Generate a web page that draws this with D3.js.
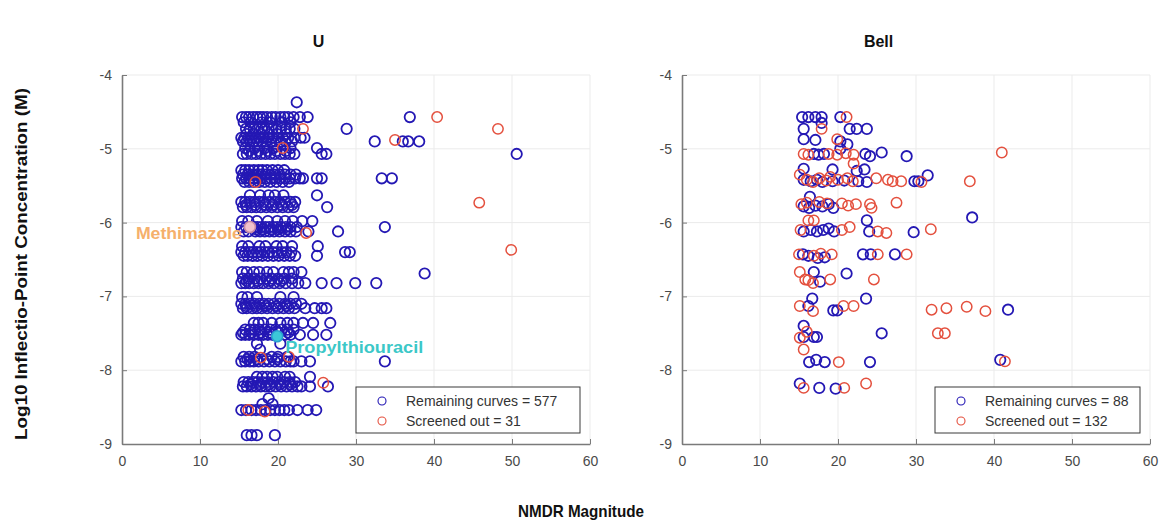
<!DOCTYPE html>
<html>
<head>
<meta charset="utf-8">
<script src="https://cdn.jsdelivr.net/npm/d3@7"></script>
<style>
  html, body { margin: 0; padding: 0; background: #fff; }
  svg { display: block; font-family: "Liberation Sans", Arial, sans-serif; }
</style>
</head>
<body>
<svg id="chart" width="1162" height="522"></svg>
<script>
// ---- Data -------------------------------------------------------------
// Panel "U": remaining curves, grouped by concentration row [log10 conc, [magnitudes...]]
const uRemainingRows = [
  [-4.37, [22.4]],
  [-4.57, [15.4, 15.9, 16.3, 16.8, 17.3, 17.7, 18.1, 18.6, 19.2, 19.7, 20.3, 20.8, 21.3, 22.0, 22.8, 23.8, 36.9]],
  [-4.64, [15.6, 16.5, 17.9, 19.0, 20.5, 21.6]],
  [-4.73, [15.9, 16.4, 16.9, 17.4, 17.9, 18.3, 18.8, 19.3, 19.8, 20.4, 21.0, 21.5, 22.1, 28.8]],
  [-4.80, [16.0, 16.8, 17.8, 18.9, 19.9, 21.1]],
  [-4.85, [15.3, 15.7, 16.2, 16.6, 17.1, 17.6, 18.2, 18.7, 19.3, 20.0, 20.6, 21.3, 22.1, 22.9, 23.4]],
  [-4.90, [15.5, 16.0, 16.4, 16.9, 17.4, 17.9, 18.5, 19.1, 19.7, 20.3, 21.0, 21.8, 32.4, 36.0, 36.7, 38.1]],
  [-4.99, [15.8, 17.0, 18.3, 19.4, 21.6, 25.0]],
  [-5.03, [16.3, 17.5, 18.7, 19.8, 21.0]],
  [-5.07, [15.5, 16.0, 16.6, 17.2, 17.8, 18.4, 19.0, 19.6, 20.3, 20.9, 21.5, 22.1, 25.6, 26.2, 50.6]],
  [-5.29, [15.3, 15.8, 16.3, 16.9, 17.5, 18.0, 18.6, 19.3, 20.0, 20.8]],
  [-5.35, [15.5, 16.1, 16.7, 17.2, 17.8, 18.4, 19.0, 19.5, 20.2, 20.9, 21.6, 22.3]],
  [-5.40, [15.4, 15.9, 16.4, 16.9, 17.4, 17.9, 18.5, 19.1, 19.7, 20.3, 20.9, 21.5, 22.2, 22.8, 23.2, 25.0, 25.6, 33.3, 34.6]],
  [-5.45, [15.7, 16.3, 16.9, 17.6, 18.3, 19.0, 19.8, 20.6, 21.4]],
  [-5.63, [16.4, 17.7, 18.8, 19.6, 20.7, 25.0]],
  [-5.72, [15.3, 15.8, 16.4, 17.0, 17.6, 18.2, 18.9, 19.6, 20.2, 20.9, 21.6, 22.2]],
  [-5.76, [15.9, 17.1, 18.4, 19.3, 20.5, 21.8]],
  [-5.79, [15.5, 16.0, 16.6, 17.2, 17.8, 18.5, 19.2, 19.9, 20.6, 21.3, 22.0, 26.3]],
  [-5.98, [15.4, 16.2, 17.3, 18.7, 19.9, 20.9, 21.9, 23.1, 24.4]],
  [-6.06, [15.3, 15.9, 16.9, 17.4, 17.9, 18.4, 18.9, 19.4, 19.9, 20.4, 21.0, 21.6, 22.4, 33.7]],
  [-6.09, [17.2, 18.1, 19.1, 20.1, 21.2]],
  [-6.12, [15.6, 16.2, 17.1, 17.7, 18.3, 18.9, 19.5, 20.2, 20.9, 21.6, 22.3, 23.9, 27.7]],
  [-6.32, [15.4, 16.2, 17.6, 18.4, 19.8, 20.6, 21.8, 25.1]],
  [-6.40, [15.3, 15.8, 16.3, 16.8, 17.3, 17.8, 18.3, 18.8, 19.3, 19.9, 20.5, 21.1, 21.7, 28.6, 29.2]],
  [-6.45, [15.6, 16.1, 16.7, 17.4, 18.0, 18.7, 19.4, 20.1, 20.8, 21.5, 22.2, 25.0]],
  [-6.67, [15.4, 16.0, 16.9, 17.6, 18.6, 19.4, 20.7, 21.4, 22.0, 23.0]],
  [-6.69, [38.8]],
  [-6.76, [15.5, 16.2, 17.0, 17.8, 18.5, 19.2, 20.0, 20.8, 21.8]],
  [-6.79, [16.0, 17.4, 18.9, 20.4]],
  [-6.82, [15.3, 15.8, 16.3, 16.9, 17.5, 18.1, 18.8, 19.5, 20.2, 21.0, 21.8, 22.6, 23.5, 25.6, 27.5, 29.9, 32.6]],
  [-7.01, [15.4, 16.1, 17.3, 20.3, 22.0]],
  [-7.10, [15.3, 15.8, 16.4, 17.0, 17.6, 18.2, 18.8, 19.5, 20.2, 20.9, 21.6, 22.3, 23.0]],
  [-7.13, [15.9, 17.2, 18.5, 19.8, 21.1]],
  [-7.16, [15.5, 16.0, 16.7, 17.3, 17.9, 18.6, 19.3, 20.0, 20.7, 21.4, 22.1, 23.5, 24.7, 25.6, 26.2]],
  [-7.36, [16.9, 17.5, 18.1, 19.2, 20.3, 21.2, 22.0, 23.2, 24.5, 26.7]],
  [-7.45, [15.8, 16.4, 17.0, 17.6, 18.3, 19.0, 19.7, 20.5, 21.2, 22.0]],
  [-7.49, [15.5, 16.6, 17.8, 18.9, 20.1, 21.3]],
  [-7.52, [15.3, 15.8, 16.3, 16.9, 17.5, 18.1, 18.7, 19.3, 20.9, 21.6, 22.8, 24.5, 26.2]],
  [-7.64, [17.3, 20.3]],
  [-7.72, [17.7]],
  [-7.82, [15.6, 16.3, 17.0, 19.2, 20.0, 21.2]],
  [-7.85, [16.1, 17.3, 18.6, 19.9]],
  [-7.88, [15.3, 15.8, 16.4, 16.9, 17.5, 18.2, 18.9, 19.6, 20.3, 21.0, 21.6, 22.0, 23.0, 24.1, 33.7]],
  [-8.09, [17.3, 18.0, 18.6, 19.3, 19.9, 20.9, 21.5, 24.1]],
  [-8.16, [15.6, 16.2, 16.8, 17.4, 18.0, 18.7, 19.4, 20.1, 20.8, 21.5, 22.2]],
  [-8.19, [16.5, 17.7, 18.9, 20.3, 21.6]],
  [-8.22, [15.5, 16.0, 16.6, 17.2, 17.8, 18.4, 19.0, 19.7, 20.4, 21.1, 21.8, 22.5, 23.0, 24.1, 26.4]],
  [-8.38, [18.8]],
  [-8.46, [18.0, 19.3]],
  [-8.54, [15.3, 15.9, 16.6, 17.2, 17.8, 18.4, 19.0, 19.6, 20.2, 20.8, 21.4, 22.5, 23.8, 24.9]],
  [-8.88, [16.0, 16.6, 17.3, 19.6]]
];

// Panel "U": screened-out curves [magnitude, log10 conc]
const uScreened = [
  [40.4, -4.57], [23.2, -4.73], [48.2, -4.73], [35.0, -4.88], [20.6, -4.99],
  [17.1, -5.45], [45.8, -5.73], [23.6, -6.14], [49.9, -6.37], [17.8, -7.83],
  [21.4, -7.82], [25.8, -8.17], [16.2, -8.54], [18.3, -8.56]
];

// Panel "Bell": remaining curves [magnitude, log10 conc]
const bellRemaining = [
  [15.4, -4.57], [16.2, -4.57], [17.1, -4.57], [17.9, -4.57], [20.3, -4.57], [17.9, -4.65],
  [15.6, -4.73], [21.5, -4.73], [22.4, -4.73], [23.7, -4.73], [15.6, -4.87], [17.1, -4.88],
  [20.3, -4.90], [21.2, -4.94], [16.9, -5.07], [17.5, -5.08], [18.2, -5.07], [20.3, -5.00],
  [23.5, -5.07], [24.1, -5.10], [25.6, -5.05], [28.8, -5.10], [15.6, -5.27], [19.3, -5.28],
  [22.4, -5.30], [23.4, -5.28], [15.6, -5.42], [16.5, -5.44], [17.3, -5.42], [18.0, -5.45],
  [19.3, -5.44], [20.8, -5.43], [22.6, -5.44], [23.7, -5.45], [29.8, -5.44], [30.3, -5.44],
  [31.5, -5.36], [16.4, -5.65], [15.6, -5.78], [16.3, -5.80], [17.1, -5.77], [18.0, -5.78],
  [18.8, -5.75], [19.4, -5.80], [23.7, -5.97], [37.2, -5.93], [15.6, -6.12], [16.5, -6.10],
  [17.3, -6.12], [18.1, -6.10], [18.8, -6.08], [19.5, -6.12], [24.0, -6.12], [29.7, -6.13],
  [15.5, -6.43], [16.2, -6.45], [17.4, -6.48], [18.3, -6.47], [23.2, -6.43], [24.2, -6.43],
  [27.3, -6.43], [16.9, -6.67], [17.7, -6.80], [21.1, -6.69], [16.7, -7.03], [23.6, -7.03],
  [16.2, -7.13], [19.4, -7.19], [19.9, -7.19], [41.8, -7.18], [15.6, -7.40], [15.6, -7.55],
  [16.9, -7.55], [17.3, -7.55], [25.6, -7.50], [16.3, -7.89], [17.2, -7.86], [18.3, -7.89],
  [24.1, -7.89], [40.8, -7.86], [15.1, -8.18], [17.6, -8.24], [19.7, -8.25]
];

// Panel "Bell": screened-out curves [magnitude, log10 conc]
const bellScreened = [
  [21.1, -4.57], [17.9, -4.73], [19.9, -4.87], [15.6, -5.07], [16.2, -5.08], [18.8, -5.07],
  [19.9, -5.08], [21.0, -5.06], [22.0, -5.08], [22.0, -5.20], [41.0, -5.05], [15.1, -5.35],
  [16.0, -5.42], [16.8, -5.45], [17.6, -5.40], [18.5, -5.43], [19.0, -5.38], [20.0, -5.42],
  [21.2, -5.40], [21.9, -5.44], [24.9, -5.40], [26.4, -5.42], [27.0, -5.44], [28.1, -5.44],
  [30.7, -5.45], [36.9, -5.44], [15.3, -5.75], [16.0, -5.73], [17.6, -5.72], [18.6, -5.74],
  [20.5, -5.74], [21.3, -5.77], [22.3, -5.75], [24.1, -5.75], [24.3, -5.80], [27.5, -5.73],
  [16.2, -5.97], [16.9, -5.97], [15.2, -6.10], [20.5, -6.10], [21.5, -6.06], [25.1, -6.12],
  [26.2, -6.14], [31.9, -6.09], [15.0, -6.43], [16.9, -6.45], [17.8, -6.42], [19.2, -6.43],
  [25.1, -6.43], [28.8, -6.43], [15.1, -6.67], [15.8, -6.77], [16.2, -6.78], [16.8, -6.82],
  [19.0, -6.77], [24.6, -6.77], [15.1, -7.13], [16.8, -7.20], [20.7, -7.13], [22.0, -7.13],
  [32.0, -7.18], [33.9, -7.16], [36.5, -7.14], [38.9, -7.20], [15.1, -7.56], [16.0, -7.48],
  [32.8, -7.50], [33.7, -7.50], [15.6, -7.72], [20.1, -7.89], [41.4, -7.88], [15.6, -8.24],
  [20.8, -8.24], [23.6, -8.18]
];

// Highlighted reference compounds in panel "U"
const highlights = [
  { name: "Methimazole", x: 16.4, y: -6.06, fill: "#f2c2cc", stroke: "#c78aa6", text: "#f5b06c", side: "left", len: 106 },
  { name: "Propylthiouracil", x: 19.9, y: -7.54, fill: "#3cc8d8", stroke: "#2a9fd0", text: "#3cc8c8", side: "right", len: 138 }
];

const panels = [
  { title: "U", remaining: uRemainingRows.flatMap(([cy, xs]) => xs.map(cx => [cx, cy])), screened: uScreened, nRemaining: 577, nScreened: 31 },
  { title: "Bell", remaining: bellRemaining, screened: bellScreened, nRemaining: 88, nScreened: 132 }
];

const xTicks = [0, 10, 20, 30, 40, 50, 60];
const yTicks = [-9, -8, -7, -6, -5, -4];

// ---- Layout -----------------------------------------------------------
const svg = d3.select("#chart");
const panelLeft = [122, 682];
const plotW = 468;
const plotTop = 75, plotBottom = 444;
const blue = "#2418b4", red = "#e4503e";
const yScale = d3.scaleLinear().domain([-9, -4]).range([plotBottom, plotTop]);

panels.forEach((p, i) => {
  const xScale = d3.scaleLinear().domain([0, 60]).range([panelLeft[i], panelLeft[i] + plotW]);
  const g = svg.append("g");

  // light grid
  g.append("g").selectAll("line").data(xTicks.slice(1)).join("line")
    .attr("x1", d => xScale(d)).attr("x2", d => xScale(d)).attr("y1", plotTop).attr("y2", plotBottom)
    .attr("stroke", "#ebebeb").attr("stroke-width", 1);
  g.append("g").selectAll("line").data(yTicks.slice(1)).join("line")
    .attr("x1", xScale(0)).attr("x2", xScale(60)).attr("y1", d => yScale(d)).attr("y2", d => yScale(d))
    .attr("stroke", "#ebebeb").attr("stroke-width", 1);

  // axes with inward ticks
  const ax = g.append("g").attr("transform", `translate(0,${plotBottom})`)
    .call(d3.axisBottom(xScale).tickValues(xTicks).tickSizeInner(-5).tickSizeOuter(0).tickPadding(12));
  const ay = g.append("g").attr("transform", `translate(${xScale(0)},0)`)
    .call(d3.axisLeft(yScale).tickValues(yTicks).tickSizeInner(-5).tickSizeOuter(0).tickPadding(10));
  [ax, ay].forEach(a => {
    a.select(".domain").attr("stroke", "#7a7a7a").attr("stroke-width", 1.6);
    a.selectAll(".tick line").attr("stroke", "#7a7a7a").attr("stroke-width", 1);
    a.selectAll(".tick text").attr("fill", "#4a4a4a").attr("font-size", 14)
      .attr("font-family", "'Liberation Sans', Arial, sans-serif");
  });
  ay.selectAll(".tick text").text(d => String(d));

  // title
  svg.append("text").attr("x", xScale(25.2)).attr("y", 47).attr("text-anchor", "middle")
    .attr("font-size", 16).attr("font-weight", "bold").attr("fill", "#111").text(p.title);

  // markers: remaining first, screened-out on top
  g.append("g").selectAll("circle").data(p.remaining).join("circle")
    .attr("cx", d => xScale(d[0])).attr("cy", d => yScale(d[1])).attr("r", 5.2)
    .attr("fill", "none").attr("stroke", blue).attr("stroke-width", 1.8);
  g.append("g").selectAll("circle").data(p.screened).join("circle")
    .attr("cx", d => xScale(d[0])).attr("cy", d => yScale(d[1])).attr("r", 5.2)
    .attr("fill", "none").attr("stroke", red).attr("stroke-width", 1.5);

  if (i === 0) {
    highlights.forEach(h => {
      g.append("circle").attr("cx", xScale(h.x)).attr("cy", yScale(h.y)).attr("r", 5.5)
        .attr("fill", h.fill).attr("stroke", h.stroke).attr("stroke-width", 1.6);
      g.append("text")
        .attr("x", h.side === "left" ? xScale(h.x) - 8 : xScale(h.x) + 8)
        .attr("y", yScale(h.y) + (h.side === "left" ? 12 : 17))
        .attr("text-anchor", h.side === "left" ? "end" : "start")
        .attr("font-size", 16).attr("font-weight", "bold").attr("fill", h.text)
        .attr("textLength", h.len).attr("lengthAdjust", "spacingAndGlyphs")
        .text(h.name);
    });
  }

  // legend (south-east)
  const lw = i === 0 ? 224 : 205, lh = 46;
  const lx = xScale(60) - 10 - lw, ly = 387;
  const lg = g.append("g").attr("transform", `translate(${lx},${ly})`);
  lg.append("rect").attr("width", lw).attr("height", lh).attr("fill", "#fff")
    .attr("stroke", "#3a3a3a").attr("stroke-width", 1);
  const items = [
    { label: `Remaining curves = ${p.nRemaining}`, color: blue },
    { label: `Screened out = ${p.nScreened}`, color: red }
  ];
  items.forEach((it, k) => {
    const cy = 14 + k * 20;
    lg.append("circle").attr("cx", 26).attr("cy", cy).attr("r", 4)
      .attr("fill", "none").attr("stroke", it.color).attr("stroke-width", 1.1);
    lg.append("text").attr("x", 50).attr("y", cy + 5).attr("font-size", 14)
      .attr("fill", "#333").text(it.label);
  });
});

// shared axis labels
svg.append("text").attr("x", 581).attr("y", 517).attr("text-anchor", "middle")
  .attr("font-size", 17).attr("font-weight", "bold").attr("fill", "#111")
  .attr("textLength", 126).attr("lengthAdjust", "spacingAndGlyphs").text("NMDR Magnitude");
svg.append("text").attr("transform", "translate(27,264) rotate(-90)").attr("text-anchor", "middle")
  .attr("font-size", 16).attr("font-weight", "bold").attr("fill", "#111")
  .attr("textLength", 352).attr("lengthAdjust", "spacingAndGlyphs")
  .text("Log10 Inflectio-Point Concentration (M)");
</script>
</body>
</html>
